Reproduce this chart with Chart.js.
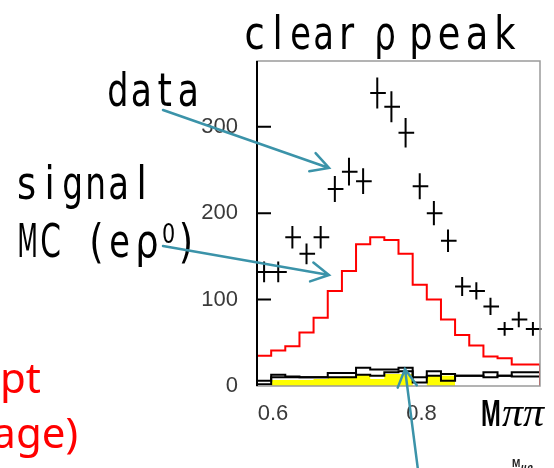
<!DOCTYPE html>
<html>
<head>
<meta charset="utf-8">
<script src="https://cdn.jsdelivr.net/npm/chart.js@4/dist/chart.umd.min.js"></script>
<style>
  html, body { margin: 0; padding: 0; background: #fff; }
  #wrap { width: 554px; height: 468px; }
</style>
</head>
<body>
<div id="wrap"><canvas id="rhoChart" width="554" height="468"></canvas></div>
<script>
// bin edges of the M(pi pi) histograms (GeV)
const binEdges = [0.5785, 0.5976, 0.6166, 0.6357, 0.6547, 0.6738, 0.6929, 0.7119, 0.7310, 0.7500, 0.7691,
  0.7882, 0.8072, 0.8263, 0.8453, 0.8644, 0.8835, 0.9025, 0.9216, 0.9406, 0.9597]

// data points (crosses) and their vertical errors
const dataCounts = [132, 132, 172, 153, 172, 228, 248, 237, 339, 323, 293, 231, 200, 168, 115, 110, 92, 66, 77, 66]
const dataErrors = [12, 12, 13, 12, 13, 15, 16, 15, 18, 18, 17, 15, 14, 13, 11, 10, 10, 8, 9, 8]

// signal MC (e rho0), red histogram
const signalMC = [30, 35, 41, 46, 62, 79, 110, 133, 164, 172, 169, 153, 117, 100, 77, 59, 47, 34, 32, 25]

// background histograms at the bottom
const bkgUpper = [13, 6, 13, 11, 10, 10, 15, 15, 21, 19, 19, 21, 10, 17, 14, 12, 12, 16, 12, 16]
const bkgLower = [10, 2, 10, 10, 10, 10, 10, 10, 13, 12, 16, 17, 4, 12, 6, 12, 12, 10, 12, 11]
const bkgYellow = [10, 0, 7, 7, 7, 8, 10, 11, 13, 8, 14, 14, 0, 12]

// tick labels
const xTicks = [0.6, 0.8]
const yTicks = [0, 100, 200, 300]

const ARROW = '#3b93a9'

// turn bin contents into points for a stepped line
function toSteps (values, closeEnds) {
  const pts = values.map((v, i) => ({ x: binEdges[i], y: v }))
  pts.push({ x: binEdges[values.length], y: values[values.length - 1] })
  if (closeEnds) {
    pts.unshift({ x: binEdges[0], y: 0 })
    pts.push({ x: binEdges[values.length], y: 0 })
  }
  return pts
}

// draw text char by char on a fixed pitch (looks like the half-width gothic of the slide)
function monoText (ctx, str, x, y, adv, size, sx) {
  ctx.save()
  ctx.font = size + 'px "DejaVu Sans"'
  ctx.textAlign = 'center'
  ctx.textBaseline = 'alphabetic'
  ctx.fillStyle = '#000'
  Array.from(str).forEach((ch, i) => {
    const w = ctx.measureText(ch).width || 1
    const s = Math.min(sx, adv * 0.9 / w)
    ctx.save()
    ctx.translate(x + (i + 0.5) * adv, y)
    ctx.scale(s, 1)
    ctx.fillText(ch, 0, 0)
    ctx.restore()
  })
  ctx.restore()
}

function arrow (ctx, x1, y1, x2, y2) {
  const a = Math.atan2(y2 - y1, x2 - x1)
  const len = 20
  const spread = 0.5
  ctx.save()
  ctx.strokeStyle = ARROW
  ctx.lineWidth = 2.5
  ctx.lineCap = 'round'
  ctx.beginPath()
  ctx.moveTo(x1, y1)
  ctx.lineTo(x2, y2)
  ctx.moveTo(x2 - len * Math.cos(a - spread), y2 - len * Math.sin(a - spread))
  ctx.lineTo(x2, y2)
  ctx.lineTo(x2 - len * Math.cos(a + spread), y2 - len * Math.sin(a + spread))
  ctx.stroke()
  ctx.restore()
}

const overlay = {
  id: 'overlay',
  beforeDraw (chart) {
    const ctx = chart.ctx
    ctx.save()
    ctx.fillStyle = '#fff'
    ctx.fillRect(0, 0, chart.width, chart.height)
    ctx.restore()
  },
  afterDatasetsDraw (chart) {
    const ctx = chart.ctx
    const xs = chart.scales.x
    const ys = chart.scales.y
    const area = chart.chartArea

    // data crosses
    ctx.save()
    ctx.strokeStyle = '#000'
    ctx.lineWidth = 2
    dataCounts.forEach((n, i) => {
      const lo = xs.getPixelForValue(binEdges[i])
      const hi = xs.getPixelForValue(binEdges[i + 1])
      const mid = (lo + hi) / 2
      const yc = ys.getPixelForValue(n)
      ctx.beginPath()
      ctx.moveTo(lo, yc)
      ctx.lineTo(hi + 1.5, yc)
      ctx.moveTo(mid, ys.getPixelForValue(n + dataErrors[i]))
      ctx.lineTo(mid, ys.getPixelForValue(n - dataErrors[i]))
      ctx.stroke()
    })
    ctx.restore()

    // frame
    ctx.save()
    ctx.strokeStyle = '#9a9a9a'
    ctx.lineWidth = 1.5
    ctx.strokeRect(area.left, area.top, area.right - area.left, area.bottom - area.top)
    ctx.strokeStyle = '#000'
    ctx.lineWidth = 2
    ctx.beginPath()
    ctx.moveTo(area.left, area.top)
    ctx.lineTo(area.left, area.bottom)
    yTicks.forEach(t => {
      if (t === 0) return
      const y = ys.getPixelForValue(t)
      ctx.moveTo(area.left, y)
      ctx.lineTo(area.left + 14, y)
    })
    ctx.stroke()
    ctx.restore()
  },
  afterDraw (chart) {
    const ctx = chart.ctx

    // slide texts
    monoText(ctx, 'clear', 243, 49, 23, 46, 0.8)
    monoText(ctx, 'ρ', 373, 49, 24, 46, 0.8)
    monoText(ctx, 'peak', 407, 49, 28, 46, 0.8)
    monoText(ctx, 'data', 106, 106, 23.5, 46, 0.8)
    monoText(ctx, 'signal', 15, 199, 23, 46, 0.8)
    monoText(ctx, 'MC (e', 16, 257, 23, 46, 0.8)
    monoText(ctx, 'ρ', 134, 257, 26, 46, 0.8)
    monoText(ctx, '0', 160, 243, 17, 26, 0.8)
    monoText(ctx, ')', 176, 257, 20, 46, 0.8)

    ctx.save()
    ctx.fillStyle = '#ff0000'
    ctx.font = '42px "Noto Sans"'
    ctx.textAlign = 'right'
    ctx.fillText('pt', 41, 393)
    ctx.fillText('age)', 78, 448)
    ctx.restore()

    ctx.save()
    ctx.fillStyle = '#000'
    ctx.translate(481, 426)
    ctx.scale(0.66, 1)
    ctx.font = 'bold 36px "Liberation Sans"'
    ctx.fillText('M', 0, 0)
    ctx.restore()
    ctx.save()
    ctx.fillStyle = '#000'
    ctx.font = 'italic 42px "Liberation Serif"'
    ctx.fillText('ππ', 502, 426)
    ctx.restore()
    ctx.save()
    ctx.fillStyle = '#222'
    ctx.font = 'bold 10px "Liberation Sans"'
    ctx.fillText('M', 512, 467)
    ctx.font = 'bold italic 8px "DejaVu Sans"'
    ctx.fillText('μρ', 521, 470)
    ctx.restore()

    // arrows
    arrow(ctx, 163, 110, 329, 168)
    arrow(ctx, 163, 246, 329, 275)
    arrow(ctx, 418, 470, 405, 369)
  }
}

new Chart(document.getElementById('rhoChart').getContext('2d'), {
  type: 'line',
  data: {
    datasets: [
      {
        label: 'signal MC',
        data: toSteps(signalMC, true),
        stepped: 'after',
        borderColor: '#ff0000',
        borderWidth: 2,
        pointRadius: 0,
        fill: false,
        order: 1
      },
      {
        label: 'bkg upper',
        data: toSteps(bkgUpper),
        stepped: 'after',
        borderColor: '#000',
        borderWidth: 2,
        pointRadius: 0,
        fill: false,
        order: 2
      },
      {
        label: 'bkg lower',
        data: toSteps(bkgLower),
        stepped: 'after',
        borderColor: '#000',
        borderWidth: 2,
        pointRadius: 0,
        fill: false,
        order: 3
      },
      {
        label: 'bkg yellow',
        data: toSteps(bkgYellow),
        stepped: 'after',
        borderColor: '#ffff00',
        backgroundColor: '#ffff00',
        borderWidth: 0,
        pointRadius: 0,
        fill: 'origin',
        order: 4
      }
    ]
  },
  options: {
    responsive: false,
    animation: false,
    devicePixelRatio: 1,
    layout: { padding: { left: 0, top: 61, right: 14, bottom: 0 } },
    plugins: {
      legend: { display: false },
      title: { display: false },
      tooltip: { enabled: false }
    },
    scales: {
      x: {
        type: 'linear',
        min: binEdges[0],
        max: binEdges[binEdges.length - 1],
        grid: { display: false, drawTicks: false },
        border: { display: false },
        afterBuildTicks: scale => { scale.ticks = xTicks.map(v => ({ value: v })) },
        afterFit: scale => { scale.height = 82 },
        ticks: {
          padding: 15,
          color: '#3a3a3a',
          font: { family: 'Liberation Sans', size: 22 },
          callback: v => v.toFixed(1)
        }
      },
      y: {
        min: 0,
        max: 376,
        grid: { display: false, drawTicks: false },
        border: { display: false },
        afterBuildTicks: scale => { scale.ticks = yTicks.map(v => ({ value: v })) },
        afterFit: scale => { scale.width = 257 },
        ticks: {
          padding: 19,
          color: '#3a3a3a',
          font: { family: 'Liberation Sans', size: 22 },
          callback: v => String(v)
        }
      }
    }
  },
  plugins: [overlay]
})
</script>
</body>
</html>
